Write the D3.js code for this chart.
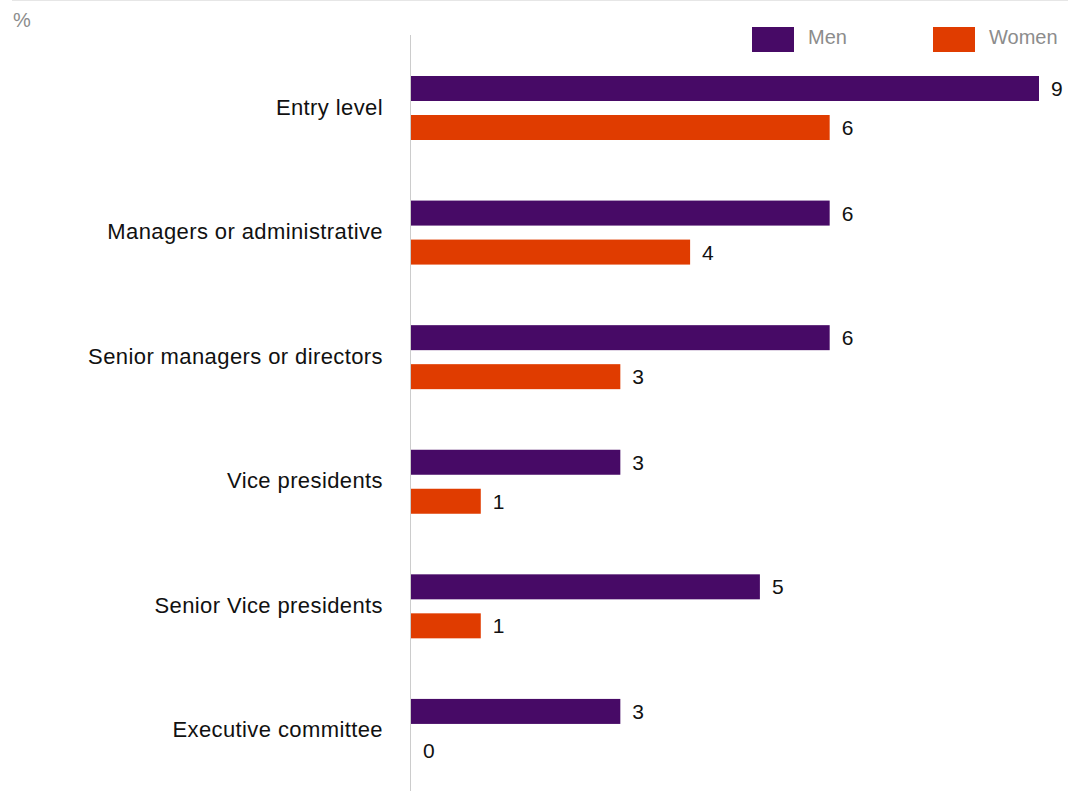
<!DOCTYPE html>
<html>
<head>
<meta charset="utf-8">
<script src="https://cdn.jsdelivr.net/npm/d3@7"></script>
<style>
  body { margin: 0; background: #fff; }
  svg { display: block; font-family: "Liberation Sans", Arial, Helvetica, sans-serif; }
</style>
</head>
<body>
<div id="chart"></div>
<script>
// data
const categories = ["Entry level", "Managers or administrative", "Senior managers or directors",
  "Vice presidents", "Senior Vice presidents", "Executive committee"];
const seriesNames = ["Men", "Women"];
const men = [9, 6, 6, 3, 5, 3];
const women = [6, 4, 3, 1, 1, 0];
const colors = ["#470a66", "#e03c00"];

const width = 1075, height = 791;

const svg = d3.select("#chart")
  .append("svg")
    .attr("width", width)
    .attr("height", height);

const rows = categories.map((c, i) => ({ cat: c, values: [men[i], women[i]] }));

// x scale: 0 at the axis line
const x = d3.scaleLinear()
  .domain([0, 9])
  .range([411, 1039]);

// outer band per category, inner band per series
const y0 = d3.scaleBand()
  .domain(categories)
  .range([57, 804.5]);

const y1 = d3.scaleBand()
  .domain(seriesNames)
  .range([19, 83])
  .paddingInner(14 / 39);

// top rule
svg.append("line")
  .attr("x1", 12).attr("x2", 1068)
  .attr("y1", 0.5).attr("y2", 0.5)
  .attr("stroke", "#e6e6e6");

svg.append("text")
  .attr("x", 13)
  .attr("y", 27)
  .style("font-size", "20px")
  .style("fill", "#8c8c8c")
  .text("%");

// bars
const group = svg.append("g")
  .selectAll("g")
  .data(rows)
  .enter()
  .append("g")
    .attr("transform", d => "translate(0," + y0(d.cat) + ")");

group.selectAll("rect")
  .data(d => d.values.map((v, i) => ({ key: seriesNames[i], value: v, i: i })))
  .enter()
  .append("rect")
    .attr("x", x(0))
    .attr("y", d => y1(d.key))
    .attr("width", d => x(d.value) - x(0))
    .attr("height", y1.bandwidth())
    .style("fill", d => colors[d.i]);

group.selectAll("text.val")
  .data(d => d.values.map((v, i) => ({ key: seriesNames[i], value: v })))
  .enter()
  .append("text")
    .attr("class", "val")
    .attr("x", d => x(d.value) + 12)
    .attr("y", d => y1(d.key) + y1.bandwidth() / 2 + 7.5)
    .style("font-size", "21px")
    .style("fill", "#111")
    .text(d => d.value);

// category labels
group.append("text")
  .attr("x", 383)
  .attr("y", 51 + 6.5)
  .attr("text-anchor", "end")
  .style("font-size", "22px")
  .style("letter-spacing", "0.4px")
  .style("fill", "#111")
  .text(d => d.cat);

// axis line
svg.append("line")
  .attr("x1", x(0) - 0.5).attr("x2", x(0) - 0.5)
  .attr("y1", 35).attr("y2", height)
  .attr("stroke", "#cccccc");

// legend
const legendX = [752, 933];
const legend = svg.append("g")
  .selectAll("g")
  .data(seriesNames)
  .enter()
  .append("g")
    .attr("transform", (d, i) => "translate(" + legendX[i] + ",27)");

legend.append("rect")
  .attr("width", 42)
  .attr("height", 25)
  .style("fill", (d, i) => colors[i]);

legend.append("text")
  .attr("x", 56)
  .attr("y", 17)
  .style("font-size", "20px")
  .style("fill", "#8c8c8c")
  .text(d => d);
</script>
</body>
</html>
